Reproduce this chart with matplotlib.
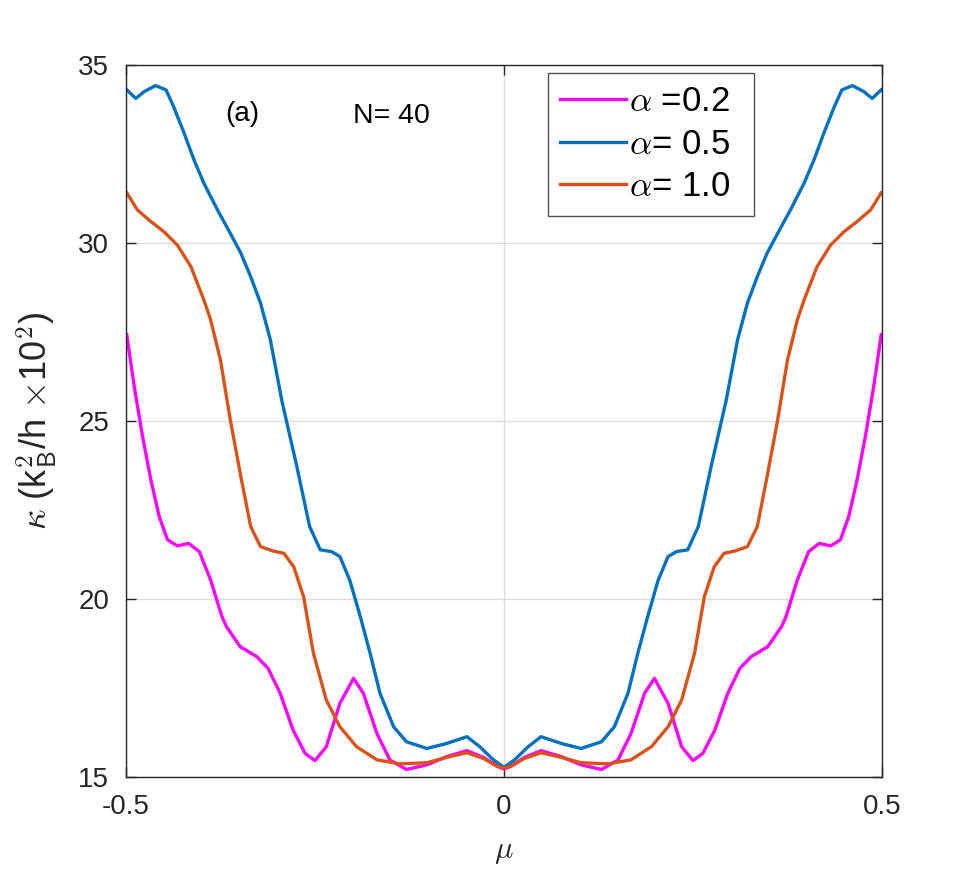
import matplotlib
matplotlib.use("Agg")
import matplotlib.pyplot as plt

plt.rcParams['font.family'] = ['Liberation Sans', 'DejaVu Sans']
plt.rcParams['mathtext.fontset'] = 'cm'

# alpha = 0.2 (magenta)
mu_a02 = [-0.499, -0.489, -0.478, -0.467, -0.456, -0.445, -0.432, -0.417, -0.403, -0.388,
          -0.373, -0.367, -0.349, -0.327, -0.312, -0.296, -0.279, -0.263, -0.250, -0.235,
          -0.217, -0.199, -0.186, -0.168, -0.151, -0.129, -0.102, -0.076, -0.049, -0.027,
          -0.010, 0.0,
          0.010, 0.027, 0.049, 0.076, 0.102, 0.129, 0.151, 0.168, 0.186, 0.199,
          0.217, 0.235, 0.250, 0.263, 0.279, 0.296, 0.312, 0.327, 0.349, 0.367,
          0.373, 0.388, 0.403, 0.417, 0.432, 0.445, 0.456, 0.467, 0.478, 0.489, 0.499]
k_a02 = [27.42, 25.96, 24.56, 23.34, 22.31, 21.66, 21.49, 21.56, 21.33, 20.53,
         19.50, 19.22, 18.66, 18.38, 18.05, 17.35, 16.32, 15.66, 15.46, 15.85,
         17.07, 17.77, 17.35, 16.22, 15.48, 15.21, 15.34, 15.57, 15.74, 15.55,
         15.31, 15.22,
         15.31, 15.55, 15.74, 15.57, 15.34, 15.21, 15.48, 16.22, 17.35, 17.77,
         17.07, 15.85, 15.46, 15.66, 16.32, 17.35, 18.05, 18.38, 18.66, 19.22,
         19.50, 20.53, 21.33, 21.56, 21.49, 21.66, 22.31, 23.34, 24.56, 25.96, 27.42]

# alpha = 0.5 (blue)
mu_a05 = [-0.499, -0.487, -0.476, -0.461, -0.447, -0.437, -0.423, -0.410, -0.397, -0.379,
          -0.362, -0.348, -0.335, -0.322, -0.309, -0.294, -0.274, -0.257, -0.243, -0.228,
          -0.217, -0.204, -0.190, -0.177, -0.164, -0.146, -0.129, -0.102, -0.076, -0.049,
          -0.032, -0.014, 0.0,
          0.014, 0.032, 0.049, 0.076, 0.102, 0.129, 0.146, 0.164, 0.177, 0.190,
          0.204, 0.217, 0.228, 0.243, 0.257, 0.274, 0.294, 0.309, 0.322, 0.335,
          0.348, 0.362, 0.379, 0.397, 0.410, 0.423, 0.437, 0.447, 0.461, 0.476, 0.487, 0.499]
k_a05 = [34.30, 34.06, 34.25, 34.42, 34.30, 33.83, 33.08, 32.33, 31.68, 30.93,
         30.27, 29.71, 29.05, 28.31, 27.28, 25.59, 23.72, 22.03, 21.38, 21.33,
         21.19, 20.53, 19.50, 18.47, 17.35, 16.41, 15.99, 15.80, 15.94, 16.13,
         15.85, 15.48, 15.27,
         15.48, 15.85, 16.13, 15.94, 15.80, 15.99, 16.41, 17.35, 18.47, 19.50,
         20.53, 21.19, 21.33, 21.38, 22.03, 23.72, 25.59, 27.28, 28.31, 29.05,
         29.71, 30.27, 30.93, 31.68, 32.33, 33.08, 33.83, 34.30, 34.42, 34.25, 34.06, 34.30]

# alpha = 1.0 (orange)
mu_a10 = [-0.499, -0.485, -0.467, -0.450, -0.432, -0.414, -0.397, -0.388, -0.375, -0.362,
          -0.348, -0.335, -0.322, -0.306, -0.291, -0.278, -0.265, -0.252, -0.235, -0.217,
          -0.195, -0.168, -0.138, -0.102, -0.076, -0.049, -0.027, -0.010, 0.0,
          0.010, 0.027, 0.049, 0.076, 0.102, 0.138, 0.168, 0.195, 0.217, 0.235,
          0.252, 0.265, 0.278, 0.291, 0.306, 0.322, 0.335, 0.348, 0.362, 0.375,
          0.388, 0.397, 0.414, 0.432, 0.450, 0.467, 0.485, 0.499]
k_a10 = [31.41, 30.93, 30.60, 30.32, 29.94, 29.33, 28.40, 27.84, 26.71, 25.03,
         23.43, 22.03, 21.47, 21.35, 21.28, 20.90, 20.06, 18.47, 17.16, 16.41,
         15.85, 15.48, 15.37, 15.40, 15.55, 15.68, 15.52, 15.31, 15.25,
         15.31, 15.52, 15.68, 15.55, 15.40, 15.37, 15.48, 15.85, 16.41, 17.16,
         18.47, 20.06, 20.90, 21.28, 21.35, 21.47, 22.03, 23.43, 25.03, 26.71,
         27.84, 28.40, 29.33, 29.94, 30.32, 30.60, 30.93, 31.41]

labels = [r'$\alpha$ =0.2  ', r'$\alpha$= 0.5  ', r'$\alpha$= 1.0  ']
colors = ['#FF00FF', '#0072BD', '#D95319']
x_ticks = [-0.5, 0, 0.5]
x_ticklabels = ['-0.5', '0', '0.5']
y_ticks = [15, 20, 25, 30, 35]

fig = plt.figure(figsize=(9.75, 8.73), dpi=100)
ax = fig.add_axes([0.1292, 0.1100, 0.7754, 0.8156])

for mu, k, lab, c in [(mu_a02, k_a02, labels[0], colors[0]),
                      (mu_a05, k_a05, labels[1], colors[1]),
                      (mu_a10, k_a10, labels[2], colors[2])]:
    ax.plot(mu, k, color=c, lw=2.4, label=lab, solid_joinstyle='round')

ax.set_xlim(-0.5, 0.5)
ax.set_ylim(15, 35)
ax.set_xticks(x_ticks)
ax.set_xticklabels(x_ticklabels)
ax.set_yticks(y_ticks)
ax.grid(True, color='#DCDCDC', lw=1.0)
ax.set_axisbelow(True)
ax.tick_params(direction='in', length=7, width=1.0, top=True, right=True,
               labelsize=20, colors='#262626')
ax.tick_params(axis='y', pad=12)
ax.tick_params(axis='x', pad=12)
for s in ax.spines.values():
    s.set_color('#262626')
    s.set_linewidth(1.0)

ax.set_xlabel(r'$\mu$', fontsize=22, color='#262626', labelpad=12)
ax.set_ylabel(r'$\kappa$ (k$_{\mathsf{B}}^{\mathsf{2}}$/h $\times$10$^{\mathsf{2}}$)',
              fontsize=26, color='#262626', labelpad=14)

ax.text(-0.346, 33.62, '(a)', fontsize=20, ha='center', va='center')
ax.text(-0.149, 33.57, 'N= 40', fontsize=20.5, ha='center', va='center')

leg = ax.legend(loc='upper left', bbox_to_anchor=(0.558, 0.989), fontsize=25,
                frameon=True, fancybox=False, edgecolor='#262626',
                handlelength=1.9, handletextpad=0.1, borderpad=0.35,
                labelspacing=0.28, borderaxespad=0.0)
leg.get_frame().set_linewidth(1.0)

fig.savefig('out.png', dpi=100)
